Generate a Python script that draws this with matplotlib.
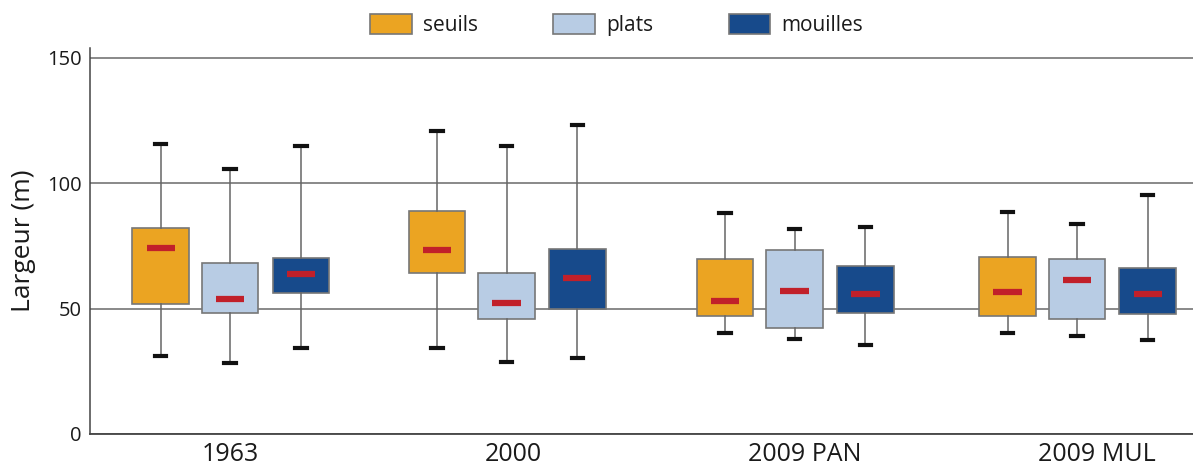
import numpy as np
import matplotlib
matplotlib.use("Agg")
import matplotlib.pyplot as plt
from matplotlib.patches import Patch

plt.rcParams["font.family"] = ["Open Sans", "DejaVu Sans"]

groups = ["1963", "2000", "2009 PAN", "2009 MUL"]
types = ["seuils", "plats", "mouilles"]
colors = ["#EBA422", "#B8CCE4", "#174A8B"]

# per group: seuils, plats, mouilles
whislo = [[31.0, 28.2, 34.3], [34.3, 28.6, 30.2], [40.4, 37.8, 35.4], [40.2, 39.1, 37.4]]
q1 = [[51.9, 48.4, 56.4], [64.3, 45.9, 50.0], [47.1, 42.2, 48.3], [47.1, 45.9, 47.9]]
med = [[74.2, 53.8, 63.7], [73.5, 52.4, 62.2], [53.1, 57.2, 55.8], [56.5, 61.3, 55.8]]
q3 = [[82.0, 68.1, 70.2], [88.8, 64.3, 73.9], [69.9, 73.3, 67.0], [70.7, 69.7, 66.3]]
whishi = [[115.7, 105.6, 114.8], [120.9, 114.8, 123.3], [88.2, 81.7, 82.7], [88.6, 83.8, 95.3]]

fig = plt.figure(figsize=(11.93, 4.70), dpi=100)
ax = fig.add_axes([0.0754, 0.0766, 0.9246, 0.822])

# group centres and label positions (a bit uneven in the original)
group_pos = [0.0, 0.976, 1.993, 2.99]
label_pos = [0.0, 1.0, 2.03, 3.06]
offsets = [-0.245, 0.0, 0.25]
box_w = 0.2

for g in range(len(groups)):
    for t in range(len(types)):
        pos = group_pos[g] + offsets[t]
        stats = [{
            "whislo": whislo[g][t], "q1": q1[g][t], "med": med[g][t],
            "q3": q3[g][t], "whishi": whishi[g][t], "fliers": [],
        }]
        ax.bxp(
            stats,
            positions=[pos],
            widths=box_w,
            capwidths=0.04,
            patch_artist=True,
            showfliers=False,
            boxprops=dict(facecolor=colors[t], edgecolor="#777777", linewidth=1.2),
            whiskerprops=dict(color="#666666", linewidth=1.1),
            capprops=dict(color="#111111", linewidth=3),
            medianprops=dict(visible=False),
            zorder=3,
        )
        ax.hlines(med[g][t], pos - 0.05, pos + 0.05, color="#C1202A", linewidth=4.5, zorder=4)

ax.set_xlim(-0.495, 3.40)
ax.set_ylim(0, 154)
ax.set_yticks([0, 50, 100, 150])
ax.yaxis.grid(True, color="#6a6a6a", linewidth=1.1)
ax.set_axisbelow(True)
ax.set_xticks(label_pos)
ax.set_xticklabels(groups, fontsize=18, color="#1a1a1a")
ax.tick_params(axis="y", labelsize=14.5, length=0, pad=6, labelcolor="#1a1a1a")
ax.tick_params(axis="x", length=0, pad=6)
for s in ["top", "right"]:
    ax.spines[s].set_visible(False)
ax.spines["left"].set_color("#444444")
ax.spines["bottom"].set_color("#444444")
ax.spines["left"].set_linewidth(1.1)
ax.spines["bottom"].set_linewidth(1.3)
ax.set_ylabel("Largeur (m)", fontsize=19, color="#1a1a1a", labelpad=8)

handles = [Patch(facecolor=c, edgecolor="#777777", linewidth=1.2) for c in colors]
fig.legend(handles, types, loc="center", bbox_to_anchor=(0.517, 0.947), ncol=3,
           frameon=False, fontsize=15, handlelength=2.0, handleheight=1.1,
           columnspacing=3.6, handletextpad=0.55, labelcolor="#1a1a1a")

fig.savefig("out.png", dpi=100)
